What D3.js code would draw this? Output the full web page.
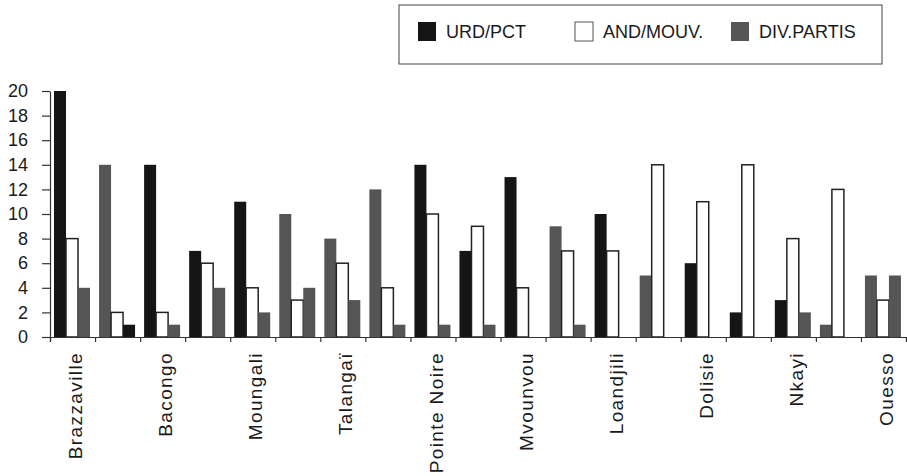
<!DOCTYPE html>
<html lang="fr">
<head>
    <meta charset="UTF-8">
    <title>URD/PCT, AND/MOUV., DIV.PARTIS</title>
    <script src="https://d3js.org/d3.v7.min.js"></script>
    <style>
        body { margin: 0; background: #fff; }
        text { font-family: "Liberation Sans", Arial, sans-serif; fill: #1a1a1a; }
        .axis path, .axis line { stroke: #333; stroke-width: 1.2px; }
        .axis text { font-size: 18px; }
        .cat { font-size: 19px; letter-spacing: 1.4px; }
        .legend text { font-size: 18px; }
    </style>
</head>
<body>
    <svg id="chart" width="907" height="476"></svg>
    <script>
        // one group every constituency, only every second one carries a name
        const groups = ["Brazzaville", "", "Bacongo", "", "Moungali", "", "Talangaï", "",
            "Pointe Noire", "", "Mvounvou", "", "Loandjili", "", "Dolisie", "", "Nkayi", "", "Ouesso"];
        const seriesNames = ["URD/PCT", "AND/MOUV.", "DIV.PARTIS"];
        const urdPct    = [20, 14, 14, 7, 11, 10, 8, 12, 14, 7, 13, 9, 10, 5, 6, 2, 3, 1, 5];
        const andMouv   = [8, 2, 2, 6, 4, 3, 6, 4, 10, 9, 4, 7, 7, 14, 11, 14, 8, 12, 3];
        const divPartis = [4, 1, 1, 4, 2, 4, 3, 1, 1, 1, 0, 1, 0, 0, 0, 0, 2, 0, 5];
        const yTicks = [0, 2, 4, 6, 8, 10, 12, 14, 16, 18, 20];

        const black = "#151515", white = "#ffffff", gray = "#555555";
        const colors = [black, white, gray];
        // the printed copy shows some bars in another shade than their legend
        const printShade = { "1-0": gray, "1-2": black, "5-0": gray, "6-0": gray, "7-0": gray,
            "11-0": gray, "13-0": gray, "17-0": gray, "18-0": gray };

        const svg = d3.select("#chart");
        const plotLeft = 50, plotRight = 906, plotTop = 91, plotBottom = 337;

        const x = d3.scaleBand().domain(d3.range(groups.length)).range([plotLeft, plotRight]).padding(0);
        const xb = d3.scaleLinear().domain([0, groups.length]).range([plotLeft, plotRight]);
        const x1 = d3.scaleBand().domain([0, 1, 2]).range([4, 40]).padding(0);
        const y = d3.scaleLinear().domain([0, 20]).range([plotBottom, plotTop]);

        const data = groups.map((g, i) => [urdPct[i], andMouv[i], divPartis[i]]);

        const g = svg.selectAll(".group")
            .data(data)
            .enter().append("g")
            .attr("class", "group")
            .attr("transform", (d, i) => `translate(${x(i)},0)`);

        g.selectAll("rect")
            .data((d, i) => d.map((v, s) => ({ v: v, s: s, gi: i })).filter(b => b.v > 0))
            .enter().append("rect")
            .attr("x", d => x1(d.s))
            .attr("y", d => y(d.v))
            .attr("width", x1.bandwidth())
            .attr("height", d => y(0) - y(d.v))
            .attr("fill", d => printShade[d.gi + "-" + d.s] || colors[d.s])
            .attr("stroke", d => d.s === 1 ? "#222" : "none")
            .attr("stroke-width", 1.5);

        // y axis
        svg.append("g")
            .attr("class", "axis")
            .attr("transform", `translate(${plotLeft},0)`)
            .call(d3.axisLeft(y).tickValues(yTicks).tickSizeInner(8).tickSizeOuter(0).tickPadding(14));

        // x axis, ticks between groups
        svg.append("g")
            .attr("class", "axis")
            .attr("transform", `translate(0,${plotBottom})`)
            .call(d3.axisBottom(xb).tickValues(d3.range(groups.length + 1)).tickSize(5).tickFormat(""));

        svg.selectAll(".cat")
            .data(groups)
            .enter().append("text")
            .attr("class", "cat")
            .attr("transform", (d, i) => `translate(${x(i) + x.bandwidth() / 2 + 3},352) rotate(-90)`)
            .attr("text-anchor", "end")
            .attr("dy", "0.35em")
            .text(d => d);

        // legend
        const legend = svg.append("g").attr("class", "legend");
        legend.append("rect")
            .attr("x", 399).attr("y", 5)
            .attr("width", 483).attr("height", 59)
            .attr("fill", "none").attr("stroke", "#444").attr("stroke-width", 1);

        const legendX = [418, 575, 731];
        const item = legend.selectAll(".item")
            .data(seriesNames)
            .enter().append("g")
            .attr("class", "item")
            .attr("transform", (d, i) => `translate(${legendX[i]},22)`);
        item.append("rect")
            .attr("width", 18).attr("height", 19)
            .attr("fill", (d, i) => colors[i])
            .attr("stroke", (d, i) => i === 1 ? "#555" : "none");
        item.append("text")
            .attr("x", 28).attr("y", 10)
            .attr("dy", "0.35em")
            .text(d => d);
    </script>
</body>
</html>
